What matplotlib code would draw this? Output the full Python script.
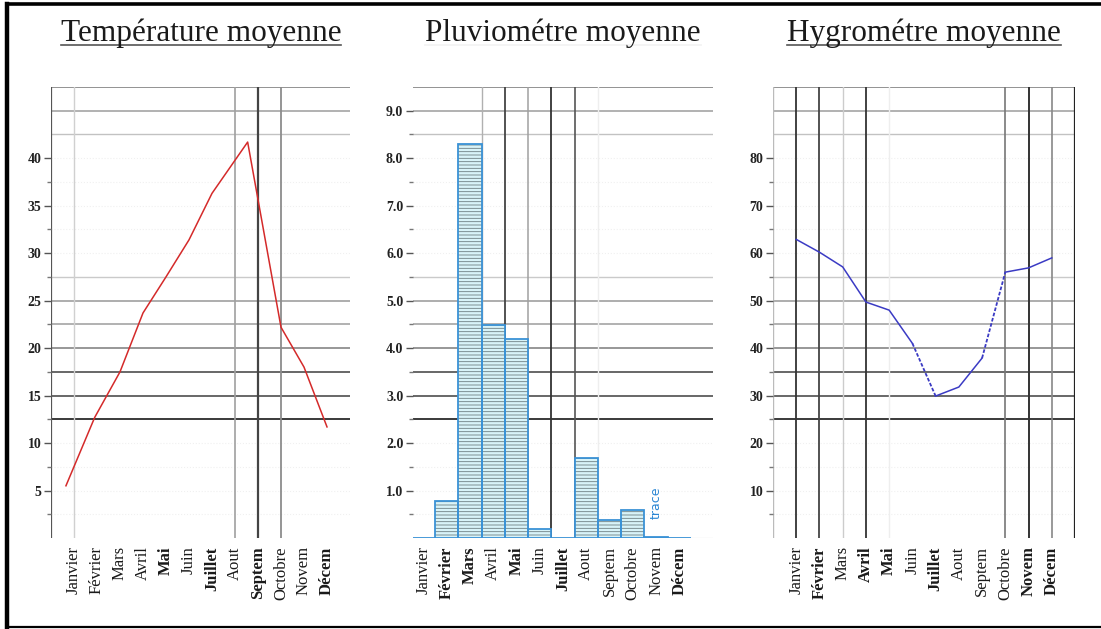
import matplotlib.pyplot as plt
from matplotlib.lines import Line2D
from matplotlib.ticker import FixedLocator

plt.rcParams["font.family"] = ["Liberation Serif", "DejaVu Serif"]
plt.rcParams["hatch.linewidth"] = 0.6

months = ["Janvier", "Février", "Mars", "Avril", "Mai", "Juin",
          "Juillet", "Aout", "Septem", "Octobre", "Novem", "Décem"]

# temperature curve (°C); the summer peak falls between Aout and Septem
temp_x = [-0.35, 0.9, 2, 3, 4, 5, 6, 7.55, 9, 10, 11]
temp_y = [5.5, 12.7, 17.5, 23.7, 27.5, 31.4, 36.3, 41.7, 22.2, 18.0, 11.7]
temp_ticks = [5, 10, 15, 20, 25, 30, 35, 40]

# monthly rainfall
rain = [0.0, 0.78, 8.3, 4.48, 4.19, 0.19, 0.0, 1.68, 0.38, 0.59, 0.03, 0.0]
rain_ticks = [1.0, 2.0, 3.0, 4.0, 5.0, 6.0, 7.0, 8.0, 9.0]
rain_note = "trace"
rain_note_month = 10
rain_note_y = 0.74

# relative humidity (%)
humidity = [62.9, 60.2, 57.1, 49.7, 48.0, 41.0, 29.9, 31.8, 37.9, 56.0, 56.9, 59.0]
hum_ticks = [10, 20, 30, 40, 50, 60, 70, 80]

# horizontal rules: step index (top = 19) -> colour, width, style
hrules = {19: ("#8a8a8a", 1.3, "-"), 18: ("#9c9c9c", 1.1, "-"), 17: ("#c2c2c2", 1.0, "-"),
          16: ("#f0f0f0", 0.8, ":"), 15: ("#f0f0f0", 0.8, ":"), 14: ("#f0f0f0", 0.8, ":"),
          13: ("#f0f0f0", 0.8, ":"), 12: ("#f0f0f0", 0.8, ":"),
          11: ("#cacaca", 1.0, "-"), 10: ("#a0a0a0", 1.2, "-"), 9: ("#a4a4a4", 1.2, "-"),
          8: ("#858585", 1.2, "-"), 7: ("#5c5c5c", 1.3, "-"), 6: ("#5c5c5c", 1.3, "-"),
          5: ("#3a3a3a", 1.4, "-"),
          4: ("#f0f0f0", 0.8, ":"), 3: ("#f0f0f0", 0.8, ":"), 2: ("#f0f0f0", 0.8, ":"),
          1: ("#f0f0f0", 0.8, ":")}

W, H = 1101, 629
fig = plt.figure(figsize=(W / 100, H / 100), dpi=100)


def px_axes(left, right, top, bottom):
    return fig.add_axes([left / W, 1 - bottom / H, (right - left) / W, (bottom - top) / H])


def setup(ax, ymax, ticks, fmt, xlim, vrules, bold):
    ax.set_xlim(*xlim)
    ax.set_ylim(0, ymax)
    step = ymax / 19
    for k, (c, lw, ls) in hrules.items():
        ax.axhline(k * step, color=c, lw=lw, ls=ls, zorder=0.5)
    for x, c, lw in vrules:
        ax.axvline(x, color=c, lw=lw, zorder=0.6)
    for s in ax.spines.values():
        s.set_visible(False)
    ax.set_yticks(ticks)
    ax.set_yticklabels([fmt.format(t) for t in ticks], fontsize=10, fontweight="bold",
                       color="#222222")
    ax.yaxis.set_minor_locator(FixedLocator([t + step for t in [0] + ticks[:-1]]))
    ax.tick_params(axis="y", which="major", length=5, width=1, color="#555555", pad=2)
    ax.tick_params(axis="y", which="minor", length=3, width=1, color="#777777")
    ax.set_xticks(range(12))
    ax.set_xticklabels(months, rotation=90, fontsize=12, color="#1a1a1a")
    for lab in ax.get_xticklabels():
        if lab.get_text() in bold:
            lab.set_fontweight("bold")
    ax.tick_params(axis="x", length=0, pad=6)


# température
ax1 = px_axes(51, 350, 87, 538)
setup(ax1, 47.5, temp_ticks, "{:d}", (-1, 12),
      [(-1, "#555555", 1.6), (0, "#d0d0d0", 1.0), (7, "#a0a0a0", 1.2),
       (8, "#444444", 1.6), (9, "#8c8c8c", 1.3)],
      {"Juillet", "Septem", "Décem", "Mai"})
ax1.plot(temp_x, temp_y, color="#d42a2a", lw=1.1, zorder=3)

# pluviométrie
ax2 = px_axes(413, 713, 87, 538)
setup(ax2, 9.5, rain_ticks, "{:.1f}", (-0.45, 12.45),
      [(2.5, "#b0b0b0", 1.0), (3.5, "#444444", 1.3), (4.5, "#a0a0a0", 1.1),
       (5.5, "#333333", 1.3), (6.5, "#555555", 1.2), (7.5, "#eeeeee", 1.0)],
      {"Février", "Mars", "Mai", "Juillet", "Décem"})
ax2.axhline(0, color="#eeeeee", lw=1, zorder=0.5)
xs = list(range(12))
ax2.bar(xs, rain, width=1, color="#d8f3f8", edgecolor="none", zorder=2)
ax2.bar(xs, rain, width=1, color="none", edgecolor="#6d7f82", hatch="-----",
        linewidth=0, zorder=2.1)
ax2.bar(xs, rain, width=1, color="none", edgecolor="#3a92d6", linewidth=1.3, zorder=2.2)
ax2.text(rain_note_month, rain_note_y, rain_note, rotation=90, ha="center", va="center",
         fontsize=9, color="#2a86d4", family="DejaVu Sans", zorder=4)

# hygrométrie
ax3 = px_axes(773, 1075, 87, 538)
setup(ax3, 95, hum_ticks, "{:d}", (-1, 12),
      [(-1, "#bbbbbb", 1.0), (0, "#333333", 1.3), (1, "#444444", 1.3), (2, "#cccccc", 1.0),
       (3, "#333333", 1.3), (4, "#eeeeee", 1.0), (9, "#777777", 1.2), (10, "#333333", 1.4),
       (11, "#888888", 1.2), (12, "#222222", 1.6)],
      {"Février", "Avril", "Juillet", "Novem", "Décem", "Mai"})
solid = [(0, 5), (6, 8), (9, 11)]
dashed = [(5, 6), (8, 9)]
for a, b in solid:
    ax3.plot(range(a, b + 1), humidity[a:b + 1], color="#3b3bc4", lw=1.1, zorder=3)
for a, b in dashed:
    ax3.plot(range(a, b + 1), humidity[a:b + 1], color="#3b3bc4", lw=1.3, ls=(0, (2, 1)),
             zorder=3)

# titles
titles = [("Température moyenne", 201, True), ("Pluviométre moyenne", 563, False),
          ("Hygrométre moyenne", 924, True)]
for text, xc, underline in titles:
    t = fig.text(xc / W, 1 - 33 / H, text, ha="center", va="center", fontsize=22.5,
                 color="#1a1a1a")
    fig.canvas.draw()
    bb = t.get_window_extent()
    color = "#555555" if underline else "#f2f2f2"
    fig.add_artist(Line2D([bb.x0 / W, bb.x1 / W], [1 - 45 / H, 1 - 45 / H],
                          transform=fig.transFigure, color=color, lw=1.2))

# outer frame
fig.add_artist(Line2D([7 / W, 7 / W], [1 - 4 / H, 1 - 627 / H], transform=fig.transFigure,
                      color="black", lw=3.2))
fig.add_artist(Line2D([7 / W, 1.0], [1 - 4 / H, 1 - 4 / H], transform=fig.transFigure,
                      color="black", lw=2.6))
fig.add_artist(Line2D([7 / W, 1.0], [1 - 627 / H, 1 - 627 / H], transform=fig.transFigure,
                      color="black", lw=1.6))

fig.savefig("out.png", dpi=100)
